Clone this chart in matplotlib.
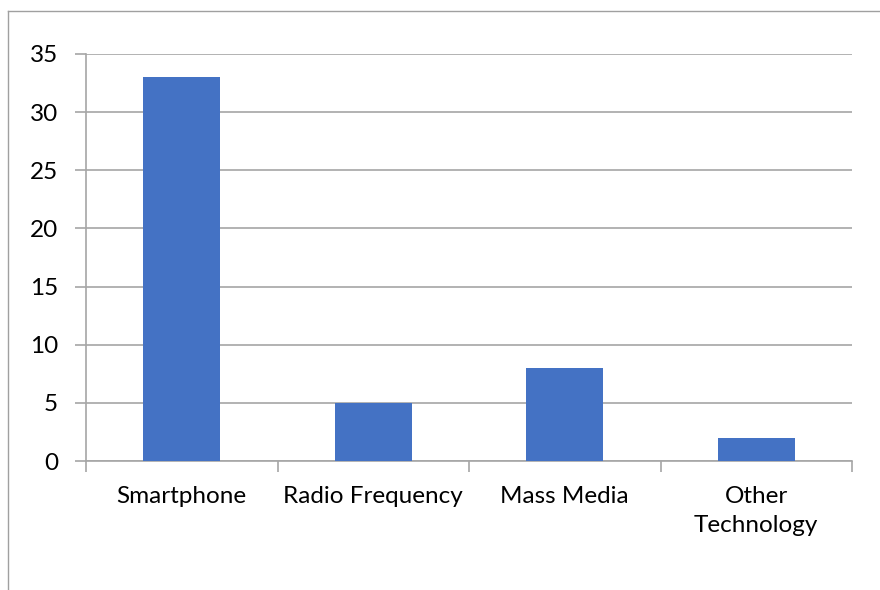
import matplotlib.pyplot as plt
import numpy as np
from matplotlib.lines import Line2D

categories = ['Smartphone', 'Radio Frequency', 'Mass Media', 'Other\nTechnology']
counts = [33, 5, 8, 2]
y_ticks = [0, 5, 10, 15, 20, 25, 30, 35]

plt.rcParams['font.family'] = ['Lato', 'DejaVu Sans']

W, H = 880, 590
figure = plt.figure(figsize=(W / 100, H / 100), dpi=100)
axes = figure.add_axes([86 / W, 1 - 461 / H, (852 - 86) / W, (461 - 54) / H])

grid_color = '#a6a6a6'
font_size = 17.5
positions = np.arange(len(categories))
axes.bar(positions, counts, width=0.4, color='#4472C4', zorder=3)

axes.set_xlim(-0.5, len(categories) - 0.5)
axes.set_ylim(0, 35)
axes.set_yticks(y_ticks)
axes.yaxis.grid(True, color=grid_color, linewidth=1.2, zorder=0)
axes.tick_params(axis='y', length=8, width=1.2, color=grid_color, labelsize=font_size, pad=12)

axes.set_xticks(positions)
axes.set_xticklabels(categories, fontsize=font_size, linespacing=1.45, va='top')
axes.tick_params(axis='x', which='major', length=0, pad=18)
axes.set_xticks(np.arange(-0.5, len(categories)), minor=True)
axes.tick_params(axis='x', which='minor', length=8, width=1.2, color=grid_color)

for side in ['top', 'right']:
    axes.spines[side].set_visible(False)
for side in ['left', 'bottom']:
    axes.spines[side].set_color(grid_color)
    axes.spines[side].set_linewidth(1.2)

# outer chart border (only left and top are visible in the picture)
figure.add_artist(Line2D([8 / W, 8 / W], [0, 1 - 11 / H], color='#a0a0a0', linewidth=1, transform=figure.transFigure))
figure.add_artist(Line2D([8 / W, 1], [1 - 11 / H, 1 - 11 / H], color='#a0a0a0', linewidth=1, transform=figure.transFigure))

figure.savefig('out.png', dpi=100)
